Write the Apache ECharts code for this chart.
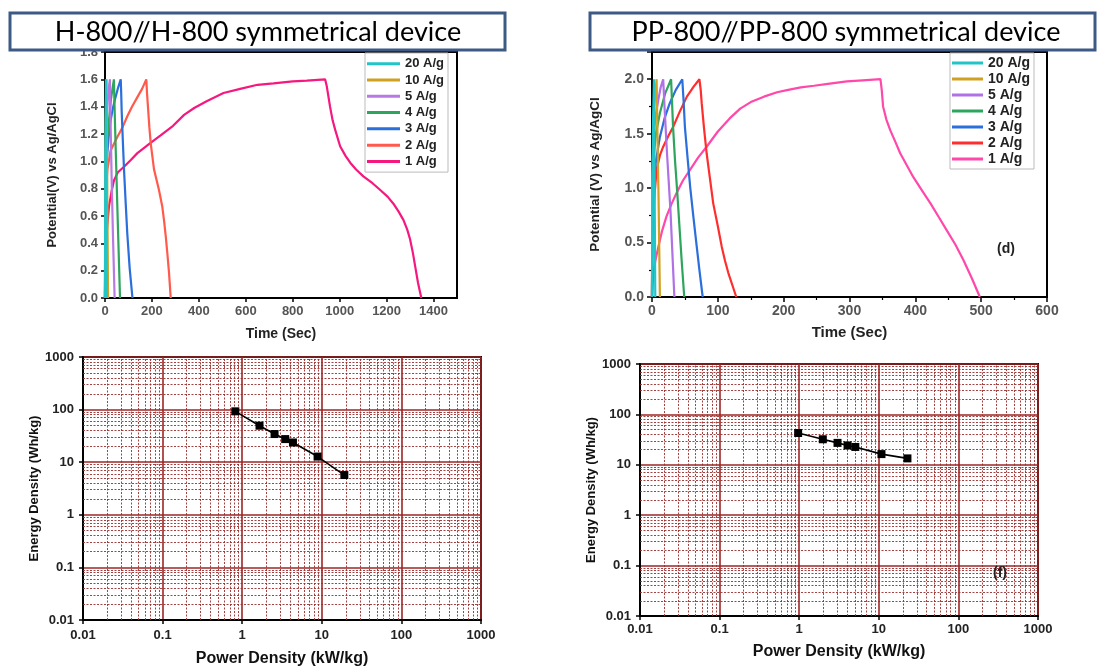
<!DOCTYPE html>
<html>
<head>
<meta charset="utf-8">
<script src="https://cdn.jsdelivr.net/npm/echarts@6/dist/echarts.min.js"></script>
<style>
html,body{margin:0;padding:0;background:#fff;}
#chart{width:1099px;height:668px;}
</style>
</head>
<body>
<div id="chart"></div>
<script>
// ---------- DATA ----------
const currentLabels = ['20 A/g', '10 A/g', '5 A/g', '4 A/g', '3 A/g', '2 A/g', '1 A/g'];

// H-800//H-800 GCD curves: [time (s), potential (V)]
const h800_20 = [[0,0],[1,1.0],[3,1.4],[4,1.6],[5,1.2],[7,0]];
const h800_10 = [[0,0],[1,0.9],[3,1.3],[5,1.5],[7,1.6],[8,1.3],[10,0.7],[13,0]];
const h800_5 = [[0,0],[1,0.8],[3,1.05],[7,1.3],[12,1.45],[17,1.55],[21,1.6],[23,1.35],[28,0.9],[34,0.45],[41,0]];
const h800_4 = [[0,0],[1,0.7],[3,0.95],[8,1.15],[17,1.3],[25,1.45],[31,1.52],[38,1.6],[40,1.45],[43,1.25],[48,0.95],[53,0.64],[58,0.35],[64,0]];
const h800_3 = [[0,0],[2,0.6],[7,1.0],[15,1.17],[24,1.3],[35,1.4],[45,1.47],[56,1.54],[67,1.6],[69,1.5],[71,1.37],[76,1.15],[81,0.94],[88,0.7],[95,0.47],[105,0.22],[117,0]];
const h800_2 = [[0,0],[2,0.6],[5,0.8],[10,0.94],[24,1.08],[53,1.18],[75,1.25],[95,1.33],[115,1.4],[138,1.47],[158,1.53],[176,1.6],[179,1.5],[183,1.4],[189,1.25],[195,1.13],[209,0.94],[230,0.79],[244,0.67],[252,0.56],[259,0.45],[266,0.32],[273,0.18],[280,0]];
const h800_1 = [[0,0],[2,0.33],[8,0.5],[17,0.67],[28,0.78],[38,0.86],[55,0.92],[81,0.96],[110,1.01],[138,1.06],[190,1.13],[237,1.19],[290,1.26],[337,1.34],[380,1.39],[433,1.44],[505,1.5],[576,1.53],[650,1.56],[718,1.57],[800,1.585],[860,1.59],[938,1.6],[945,1.55],[959,1.4],[970,1.3],[981,1.23],[1002,1.11],[1025,1.04],[1045,0.99],[1070,0.94],[1101,0.89],[1140,0.84],[1173,0.79],[1205,0.74],[1229,0.69],[1252,0.63],[1272,0.57],[1288,0.5],[1300,0.43],[1312,0.33],[1322,0.23],[1334,0.11],[1348,0]];

// PP-800//PP-800 GCD curves: [time (s), potential (V)]
const pp800_20 = [[0,0],[0.5,0.8],[1.5,1.6],[3,2.0],[3.5,1.5],[4.2,0.8],[5,0]];
const pp800_10 = [[0,0],[0.5,1.0],[2,1.5],[4,1.8],[7,2.0],[8,1.6],[10,0.9],[12,0]];
const pp800_5 = [[0,0],[0.5,1.0],[2,1.41],[5,1.65],[9.6,1.81],[13,1.92],[17,2.0],[19,1.75],[23,1.3],[28,0.8],[34,0]];
const pp800_4 = [[0,0],[0.5,0.9],[2,1.26],[6,1.5],[12,1.69],[20,1.87],[29,2.0],[32,1.56],[35,1.25],[38.5,0.95],[42,0.62],[45,0.34],[49,0]];
const pp800_3 = [[0,0],[0.5,0.7],[2,1.01],[6,1.25],[12,1.47],[19,1.64],[27,1.78],[36,1.9],[46,2.0],[48,1.8],[50,1.56],[54,1.28],[58,1.01],[63,0.73],[68,0.46],[72,0.25],[77,0]];
const pp800_2 = [[0,0],[0.5,0.55],[2,0.75],[4,0.95],[7,1.17],[12,1.3],[17,1.38],[25,1.48],[32,1.56],[42,1.7],[53,1.84],[63,1.93],[72,2.0],[74,1.9],[75.5,1.78],[79,1.55],[83,1.32],[88,1.09],[93,0.86],[100,0.65],[106,0.46],[111,0.33],[116,0.22],[122,0.11],[128,0]];
const pp800_1 = [[0,0],[2,0.22],[5,0.33],[9.6,0.46],[15,0.6],[22,0.74],[30,0.86],[37,0.95],[47,1.07],[58,1.17],[70,1.28],[83,1.38],[100,1.52],[118,1.64],[134,1.73],[150,1.79],[170,1.84],[190,1.88],[205,1.9],[226,1.925],[246,1.94],[270,1.96],[296,1.98],[320,1.99],[347,2.0],[349,1.9],[351,1.75],[356,1.63],[362,1.53],[370,1.42],[377,1.32],[387,1.21],[397,1.1],[410,0.98],[423,0.86],[436,0.73],[448,0.61],[461,0.48],[473,0.34],[486,0.17],[498,0]];

// Ragone data
const hPower = [0.82, 1.65, 2.55, 3.47, 4.34, 8.85, 19.2];
const hEnergy = [92.7, 49.4, 34.3, 27.5, 23.7, 12.8, 5.7];
const ppPower = [0.97, 1.98, 3.03, 4.05, 5.07, 10.8, 22.9];
const ppEnergy = [42.8, 32.1, 27.2, 24.2, 22.6, 16.3, 13.4];

// tick label sets
const logTicks = [0.01, 0.1, 1, 10, 100, 1000];

// ---------- STYLE ----------
const colorsH = ['#22c4c8', '#d0a020', '#b77ae0', '#2ea55c', '#2a6fdc', '#ff5a4c', '#f5187e'];
const colorsP = ['#22c4c8', '#d0a020', '#b070e6', '#2ea55c', '#2a6fdc', '#ff2e2e', '#ff48aa'];
const hSets = [h800_20, h800_10, h800_5, h800_4, h800_3, h800_2, h800_1];
const pSets = [pp800_20, pp800_10, pp800_5, pp800_4, pp800_3, pp800_2, pp800_1];

const FONT = '"Liberation Sans", Arial, sans-serif';
const gridRed = '#9c2626';
const minorRed = '#9a2c2c';

// minor log grid positions (2..9 x 10^k)
const minorVals = [];
for (let e = -2; e < 3; e++) for (let m = 2; m <= 9; m++) minorVals.push(+(m * Math.pow(10, e)).toPrecision(3));

function logFmt(v) {
  const e = Math.round(Math.log10(v));
  return e < 0 ? Math.pow(10, e).toFixed(-e) : String(Math.round(Math.pow(10, e)));
}

const series = [];
hSets.forEach((d, i) => series.push({
  name: 'H ' + currentLabels[i], type: 'line', xAxisIndex: 0, yAxisIndex: 0,
  data: d, showSymbol: false, symbol: 'none', smooth: false,
  lineStyle: { width: 2.2, color: colorsH[i] }, itemStyle: { color: colorsH[i] },
  z: 10 - i, animation: false
}));
pSets.forEach((d, i) => series.push({
  name: 'P ' + currentLabels[i], type: 'line', xAxisIndex: 1, yAxisIndex: 1,
  data: d, showSymbol: false, symbol: 'none', smooth: false,
  lineStyle: { width: 2.2, color: colorsP[i] }, itemStyle: { color: colorsP[i] },
  z: 10 - i, animation: false
}));

function minorGridSeries(idx) {
  return {
    type: 'line', xAxisIndex: idx, yAxisIndex: idx, data: [], z: 1, animation: false,
    markLine: {
      silent: true, symbol: ['none', 'none'], label: { show: false }, animation: false,
      lineStyle: { color: minorRed, width: 1, type: [2, 1.5], opacity: 0.9 },
      emphasis: { disabled: true },
      data: minorVals.map(v => ({ xAxis: v })).concat(minorVals.map(v => ({ yAxis: v })))
    }
  };
}
series.push(minorGridSeries(2));
series.push(minorGridSeries(3));

series.push({
  name: 'H Ragone', type: 'line', xAxisIndex: 2, yAxisIndex: 2,
  data: hPower.map((p, i) => [p, hEnergy[i]]),
  symbol: 'rect', symbolSize: 8, lineStyle: { color: '#000', width: 1.6 }, itemStyle: { color: '#000' },
  z: 10, animation: false
});
series.push({
  name: 'P Ragone', type: 'line', xAxisIndex: 3, yAxisIndex: 3,
  data: ppPower.map((p, i) => [p, ppEnergy[i]]),
  symbol: 'rect', symbolSize: 8, lineStyle: { color: '#000', width: 1.6 }, itemStyle: { color: '#000' },
  z: 10, animation: false
});

const blackLine = { show: true, onZero: false, lineStyle: { color: '#000', width: 2 } };
const gridBox = { show: true, borderColor: '#000', borderWidth: 2, backgroundColor: 'transparent', containLabel: false };

const option = {
  backgroundColor: '#fff',
  animation: false,
  grid: [
    Object.assign({ left: 105, top: 52, width: 352, height: 246 }, gridBox),
    Object.assign({ left: 652, top: 52, width: 395, height: 245 }, gridBox),
    Object.assign({ left: 83, top: 357, width: 398, height: 265 }, gridBox),
    Object.assign({ left: 640, top: 364, width: 398, height: 252 }, gridBox)
  ],
  xAxis: [
    {
      gridIndex: 0, type: 'value', min: 0, max: 1500, interval: 200,
      axisLine: blackLine, axisTick: { show: true, length: 4, lineStyle: { color: '#000', width: 1.5 } },
      splitLine: { show: false },
      axisLabel: { showMaxLabel: false, formatter: v => String(v), fontFamily: FONT, fontSize: 13, fontWeight: 'bold', color: '#555', margin: 7 },
      name: 'Time (Sec)', nameLocation: 'middle', nameGap: 29,
      nameTextStyle: { fontFamily: FONT, fontSize: 14, fontWeight: 'bold', color: '#222' }
    },
    {
      gridIndex: 1, type: 'value', min: 0, max: 600, interval: 100,
      axisLine: blackLine, axisTick: { show: true, length: 5, lineStyle: { color: '#000', width: 1.5 } },
      minorTick: { show: true, splitNumber: 2, length: 3, lineStyle: { color: '#000', width: 1.2 } },
      splitLine: { show: false },
      axisLabel: { formatter: v => String(v), fontFamily: FONT, fontSize: 14, fontWeight: 'bold', color: '#555', margin: 7 },
      name: 'Time (Sec)', nameLocation: 'middle', nameGap: 28,
      nameTextStyle: { fontFamily: FONT, fontSize: 15, fontWeight: 'bold', color: '#222' }
    },
    {
      gridIndex: 2, type: 'log', logBase: 10, min: logTicks[0], max: logTicks[logTicks.length - 1], splitNumber: 5,
      axisLine: blackLine, axisTick: { show: true, length: 4, lineStyle: { color: '#000', width: 1.5 } },
      splitLine: { show: true, lineStyle: { color: gridRed, width: 1.6 } },
      axisLabel: { formatter: logFmt, fontFamily: FONT, fontSize: 13, fontWeight: 'bold', color: '#222', margin: 9 },
      name: 'Power Density (kW/kg)', nameLocation: 'middle', nameGap: 31,
      nameTextStyle: { fontFamily: FONT, fontSize: 16, fontWeight: 'bold', color: '#111' }
    },
    {
      gridIndex: 3, type: 'log', logBase: 10, min: logTicks[0], max: logTicks[logTicks.length - 1], splitNumber: 5,
      axisLine: blackLine, axisTick: { show: true, length: 4, lineStyle: { color: '#000', width: 1.5 } },
      splitLine: { show: true, lineStyle: { color: gridRed, width: 1.6 } },
      axisLabel: { formatter: logFmt, fontFamily: FONT, fontSize: 13, fontWeight: 'bold', color: '#222', margin: 7 },
      name: 'Power Density (kW/kg)', nameLocation: 'middle', nameGap: 28,
      nameTextStyle: { fontFamily: FONT, fontSize: 16, fontWeight: 'bold', color: '#111' }
    }
  ],
  yAxis: [
    {
      gridIndex: 0, type: 'value', min: 0, max: 1.8, interval: 0.2,
      axisLine: blackLine, axisTick: { show: true, length: 4, lineStyle: { color: '#000', width: 1.5 } },
      splitLine: { show: false },
      axisLabel: { formatter: v => v.toFixed(1), fontFamily: FONT, fontSize: 13, fontWeight: 'bold', color: '#555', margin: 7 },
      name: 'Potential(V) vs Ag/AgCl', nameLocation: 'middle', nameGap: 46,
      nameTextStyle: { fontFamily: FONT, fontSize: 13, fontWeight: 'bold', color: '#222' }
    },
    {
      gridIndex: 1, type: 'value', min: 0, max: 2.25, interval: 0.5,
      axisLine: blackLine, axisTick: { show: true, length: 5, lineStyle: { color: '#000', width: 1.5 } },
      minorTick: { show: true, splitNumber: 2, length: 3, lineStyle: { color: '#000', width: 1.2 } },
      splitLine: { show: false },
      axisLabel: { showMaxLabel: false, formatter: v => v.toFixed(1), fontFamily: FONT, fontSize: 14, fontWeight: 'bold', color: '#555', margin: 8 },
      name: 'Potential (V) vs Ag/AgCl', nameLocation: 'middle', nameGap: 50,
      nameTextStyle: { fontFamily: FONT, fontSize: 13.5, fontWeight: 'bold', color: '#222' }
    },
    {
      gridIndex: 2, type: 'log', logBase: 10, min: logTicks[0], max: logTicks[logTicks.length - 1], splitNumber: 5,
      axisLine: blackLine, axisTick: { show: true, length: 4, lineStyle: { color: '#000', width: 1.5 } },
      splitLine: { show: true, lineStyle: { color: gridRed, width: 1.6 } },
      axisLabel: { formatter: logFmt, fontFamily: FONT, fontSize: 13, fontWeight: 'bold', color: '#222', margin: 9 },
      name: 'Energy Density (Wh/kg)', nameLocation: 'middle', nameGap: 40,
      nameTextStyle: { fontFamily: FONT, fontSize: 13, fontWeight: 'bold', color: '#111' }
    },
    {
      gridIndex: 3, type: 'log', logBase: 10, min: logTicks[0], max: logTicks[logTicks.length - 1], splitNumber: 5,
      axisLine: blackLine, axisTick: { show: true, length: 4, lineStyle: { color: '#000', width: 1.5 } },
      splitLine: { show: true, lineStyle: { color: gridRed, width: 1.6 } },
      axisLabel: { formatter: logFmt, fontFamily: FONT, fontSize: 13, fontWeight: 'bold', color: '#222', margin: 9 },
      name: 'Energy Density (Wh/kg)', nameLocation: 'middle', nameGap: 41,
      nameTextStyle: { fontFamily: FONT, fontSize: 13, fontWeight: 'bold', color: '#111' }
    }
  ],
  legend: [
    {
      data: currentLabels.map(n => 'H ' + n), formatter: n => n.slice(2),
      orient: 'vertical', left: 365, top: 53, padding: [4, 4, 4, 2],
      backgroundColor: '#fff', borderColor: '#bbb', borderWidth: 1,
      icon: 'rect', itemWidth: 33, itemHeight: 3, itemGap: 3,
      selectedMode: false,
      textStyle: { fontFamily: FONT, fontSize: 13, fontWeight: 'bold', color: '#222', lineHeight: 13.3, padding: [0, 0, 0, 0] }
    },
    {
      data: currentLabels.map(n => 'P ' + n), formatter: n => n.slice(2),
      orient: 'vertical', left: 950, top: 53, padding: [3, 4, 3, 2],
      backgroundColor: '#fff', borderColor: '#bbb', borderWidth: 1,
      icon: 'rect', itemWidth: 31, itemHeight: 3, itemGap: 2,
      selectedMode: false,
      textStyle: { fontFamily: FONT, fontSize: 14, fontWeight: 'bold', color: '#222', lineHeight: 14, padding: [0, 0, 0, 0] }
    }
  ],
  graphic: [
    { type: 'rect', z: 100, shape: { x: 10, y: 13, width: 495, height: 37 }, style: { fill: '#fff', stroke: '#3d5a85', lineWidth: 3 } },
    { type: 'text', z: 101, x: 258, y: 32, style: { text: 'H-800//H-800 symmetrical device', font: '27px Lato, "Open Sans", sans-serif', textAlign: 'center', textVerticalAlign: 'middle', fill: '#000' } },
    { type: 'rect', z: 100, shape: { x: 590, y: 13, width: 505, height: 37 }, style: { fill: '#fff', stroke: '#3d5a85', lineWidth: 3 } },
    { type: 'text', z: 101, x: 846, y: 32, style: { text: 'PP-800//PP-800 symmetrical device', font: '27px Lato, "Open Sans", sans-serif', textAlign: 'center', textVerticalAlign: 'middle', fill: '#000' } },
    { type: 'text', z: 50, x: 1006, y: 249, style: { text: '(d)', font: 'bold 14px "Liberation Sans", Arial', textAlign: 'center', textVerticalAlign: 'middle', fill: '#222' } },
    { type: 'text', z: 50, x: 1000, y: 573, style: { text: '(f)', font: 'bold 14px "Liberation Sans", Arial', textAlign: 'center', textVerticalAlign: 'middle', fill: '#222' } }
  ],
  series: series
};

const chart = echarts.init(document.getElementById('chart'), null, { renderer: 'canvas' });
chart.setOption(option);
</script>
</body>
</html>
